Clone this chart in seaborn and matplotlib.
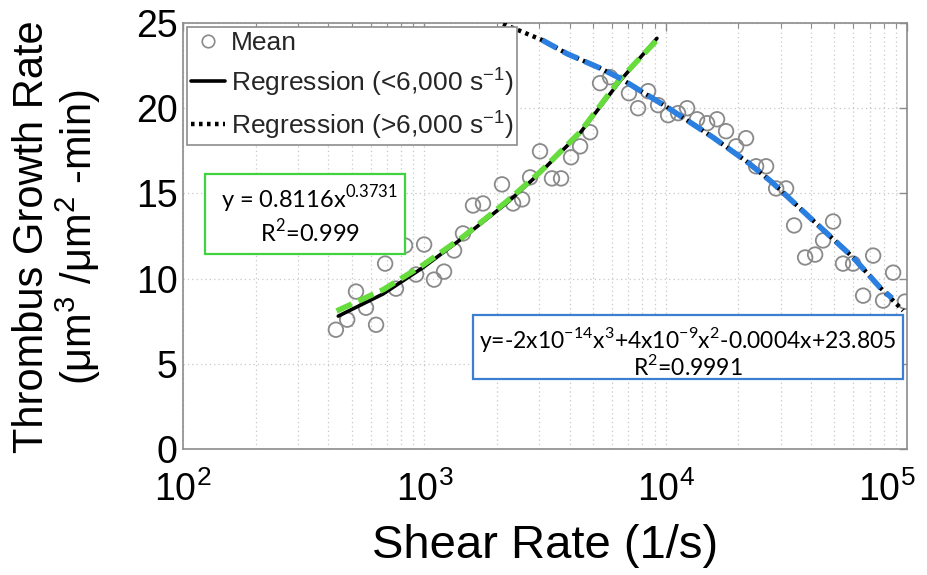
import numpy as np
import pandas as pd
import matplotlib
matplotlib.use("Agg")
import matplotlib.pyplot as plt
import seaborn as sns
from matplotlib.lines import Line2D
from matplotlib.patches import Rectangle
from matplotlib.ticker import LogLocator, NullFormatter
from matplotlib.transforms import ScaledTranslation

# ---------------- data ----------------
shear_rate = [430, 479, 521, 573, 631, 688, 763, 832, 924, 998, 1097, 1207, 1328, 1446,
              1591, 1750, 2098, 2332, 2542, 2743, 3016, 3380, 3686, 4055, 4420, 4864,
              5348, 5886, 7046, 7686, 8457, 9304, 10236, 11256, 12270, 13490, 14850,
              16330, 17790, 19570, 21530, 23700, 26070, 28690, 31550, 34060, 37840,
              41620, 44900, 49400, 54300, 59800, 65800, 72400, 79600, 87600, 98100]
growth_mean = [7.0, 7.59, 9.24, 8.29, 7.29, 10.88, 9.41, 11.94, 10.24, 12.0, 9.94, 10.41,
               11.65, 12.65, 14.29, 14.41, 15.53, 14.41, 14.65, 15.94, 17.47, 15.88, 15.88,
               17.12, 17.76, 18.59, 21.47, 21.82, 20.88, 20.0, 21.0, 20.18, 19.59, 19.71,
               20.0, 19.35, 19.12, 19.35, 18.65, 17.76, 18.24, 16.59, 16.59, 15.29, 15.29,
               13.12, 11.24, 11.41, 12.24, 13.35, 10.88, 10.88, 9.0, 11.35, 8.71, 10.35, 8.65]

# regression (<6,000 1/s), black solid
low_x = [440, 675, 988, 1446, 2203, 3013, 4420, 6470, 9200]
low_y = [7.8, 9.1, 10.65, 12.4, 14.45, 16.2, 18.55, 21.6, 24.1]
# green dashed trendline over it
green_x = [433, 675, 988, 1446, 2203, 3013, 4420, 6470, 9200]
green_y = [8.1, 9.35, 10.8, 12.45, 14.55, 16.25, 18.6, 21.7, 24.0]
# regression (>6,000 1/s), black dotted
high_x = [2120, 3076, 3900, 5350, 6470, 10140, 15700, 21900, 27600, 40800, 59800, 77400, 96400]
high_y = [24.95, 24.0, 23.2, 22.35, 21.76, 20.06, 18.29, 16.82, 15.65, 13.41, 11.24, 9.47, 8.12]
# blue dashed trendline over it
blue_x = [3076, 3900, 5350, 6470, 10140, 15700, 21900, 27600, 40800, 59800, 77400, 86700]
blue_y = [24.0, 23.2, 22.35, 21.76, 20.06, 18.29, 16.82, 15.65, 13.41, 11.24, 9.47, 8.85]

legend_labels = ["Mean", "Regression (<6,000 s$^{\\mathdefault{-1}}$)",
                 "Regression (>6,000 s$^{\\mathdefault{-1}}$)"]
green_eq = ["y = 0.8116x$^{\\mathdefault{0.3731}}$", "R$^{\\mathdefault{2}}$=0.999"]
blue_eq = ["y=-2x10$^{\\mathdefault{-14}}$x$^{\\mathdefault{3}}$+4x10$^{\\mathdefault{-9}}$"
           "x$^{\\mathdefault{2}}$-0.0004x+23.805", "R$^{\\mathdefault{2}}$=0.9991"]
x_label = "Shear Rate (1/s)"
y_label = "Thrombus Growth Rate\n(μm$^{\\mathdefault{3}}$ /μm$^{\\mathdefault{2}}$ -min)"
y_ticks = [0, 5, 10, 15, 20, 25]

# ---------------- styling ----------------
sns.set_theme(style="white")
plt.rcParams["font.family"] = ["Liberation Sans", "DejaVu Sans"]

fig = plt.figure(figsize=(9.27, 5.75), dpi=100)
ax = fig.add_axes([183 / 927, 1 - 449 / 575, 724 / 927, 426 / 575])

df_pts = pd.DataFrame({"x": shear_rate, "y": growth_mean})
sns.scatterplot(data=df_pts, x="x", y="y", ax=ax, marker="o", s=110,
                facecolor="none", edgecolor="#8a8a8a", linewidth=1.3, zorder=3)

def draw(xs, ys, **kw):
    d = pd.DataFrame({"x": xs, "y": ys})
    sns.lineplot(data=d, x="x", y="y", ax=ax, sort=False, estimator=None, **kw)

draw(low_x, low_y, color="black", lw=2.6, zorder=4)
draw(green_x, green_y, color="#66dd3c", lw=4.0, dashes=(3.0, 1.3), zorder=5)
draw(high_x, high_y, color="black", lw=3.2, dashes=(0.8, 1.0), zorder=4)
draw(blue_x, blue_y, color="#2b7fe0", lw=4.0, dashes=(3.0, 1.3), zorder=5)

ax.set_xscale("log")
ax.set_xlim(1e2, 1e5)
ax.set_ylim(0, 25)
ax.set_yticks(y_ticks)
ax.xaxis.set_major_locator(LogLocator(base=10, numticks=10))
ax.xaxis.set_minor_locator(LogLocator(base=10, subs=np.arange(2, 10), numticks=20))
ax.xaxis.set_minor_formatter(NullFormatter())

ax.grid(which="both", axis="x", ls=(0, (1, 2.5)), color="#c8c8c8", lw=0.9)
ax.grid(which="major", axis="y", ls=(0, (1, 2.5)), color="#c8c8c8", lw=0.9)
ax.set_axisbelow(True)

for s in ax.spines.values():
    s.set_color("#8c8c8c")
    s.set_linewidth(1.2)
ax.tick_params(which="both", direction="in", top=True, right=True, color="#8c8c8c")
ax.tick_params(which="major", length=6, width=1)
ax.tick_params(which="minor", length=3.5, width=0.8)
ax.tick_params(axis="y", labelsize=27, pad=4, labelcolor="black")
ax.tick_params(axis="x", labelsize=27, pad=16, labelcolor="black")

ax.set_xlabel(x_label, fontsize=34, labelpad=11, color="black")
ax.set_ylabel("")
fig.text(0.062, 0.588, y_label, rotation=90, ha="center", va="center",
         fontsize=30, linespacing=1.05, multialignment="center", color="black")

# legend
handles = [
    Line2D([], [], ls="none", marker="o", markersize=9, markerfacecolor="none",
           markeredgecolor="#8a8a8a", markeredgewidth=1.2),
    Line2D([], [], color="black", lw=2.6),
    Line2D([], [], color="black", lw=3.2, dashes=(0.8, 1.0)),
]
leg = ax.legend(handles, legend_labels, loc="upper left",
                bbox_to_anchor=((187 - 183) / 724, (449 - 27) / 426),
                borderaxespad=0, fontsize=19, frameon=True, fancybox=False,
                framealpha=1, edgecolor="#8c8c8c", handlelength=1.3,
                handletextpad=0.2, labelspacing=0.38, borderpad=0.15)
leg.get_frame().set_linewidth(1.2)
leg.set_zorder(10)

# equation boxes
box_font = ["Lato", "DejaVu Sans"]
ax.add_patch(Rectangle((0.0304, 0.4577), 0.2762, 0.1878, transform=ax.transAxes,
                       facecolor="white", edgecolor="#3fd43f", lw=1.6, zorder=6))
ax.text(0.175, 0.586, green_eq[0], transform=ax.transAxes, ha="center", va="center",
        fontsize=17, family=box_font, zorder=7, color="black")
ax.text(0.175, 0.509, green_eq[1], transform=ax.transAxes, ha="center", va="center",
        fontsize=17, family=box_font, zorder=7, color="black")

ax.add_patch(Rectangle((0.4006, 0.1643), 0.5939, 0.1503, transform=ax.transAxes,
                       facecolor="white", edgecolor="#3c7fd0", lw=1.6, zorder=6))
ax.text(0.6975, 0.258, blue_eq[0], transform=ax.transAxes, ha="center", va="center",
        fontsize=16.5, family=box_font, zorder=7, color="black")
ax.text(0.6975, 0.193, blue_eq[1], transform=ax.transAxes, ha="center", va="center",
        fontsize=16.5, family=box_font, zorder=7, color="black")

# keep the last x tick label (10^5) inside the figure, as in the reference
fig.canvas.draw()
last = ax.xaxis.get_major_ticks()
for t in last:
    if abs(t.get_loc() - 1e5) < 1:
        t.label1.set_transform(t.label1.get_transform() +
                               ScaledTranslation(-0.2, 0, fig.dpi_scale_trans))

fig.savefig("out.png", dpi=100)
